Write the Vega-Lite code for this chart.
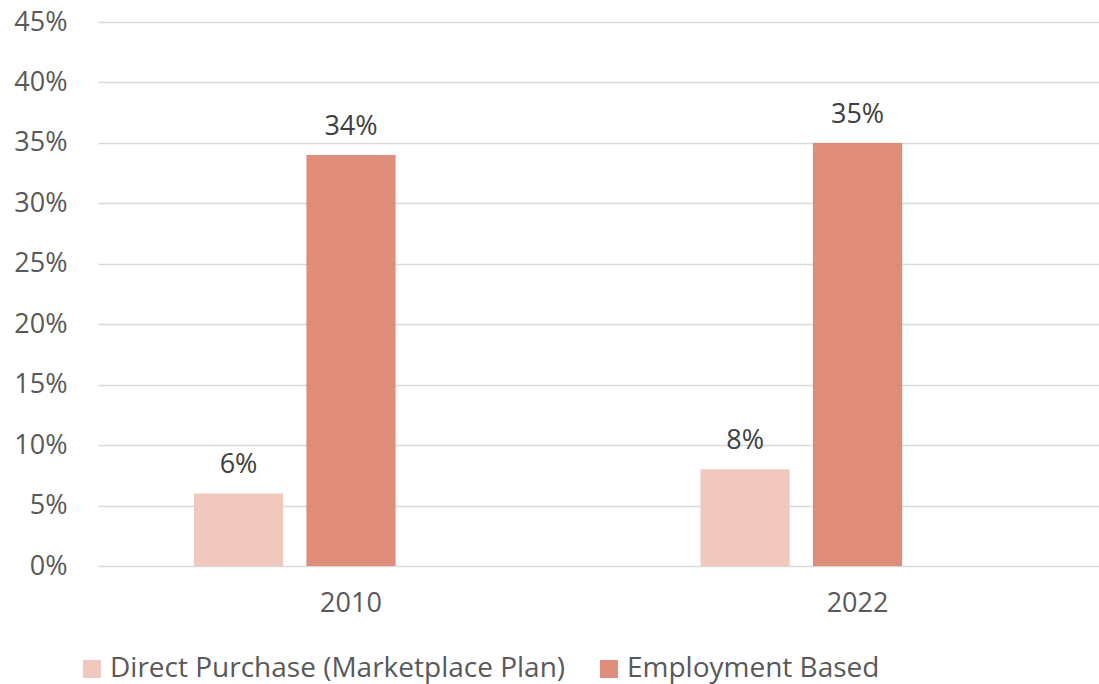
{
  "$schema": "https://vega.github.io/schema/vega-lite/v6.json",
  "width": 1001,
  "height": 544,
  "autosize": {"type": "none"},
  "padding": {"left": 98, "top": 22, "right": 0, "bottom": 118},
  "background": "white",
  "config": {
    "font": "Open Sans",
    "view": {"stroke": null}
  },
  "data": {
    "values": [
      {"year": "2010", "series": "Direct Purchase (Marketplace Plan)", "value": 0.06},
      {"year": "2010", "series": "Employment Based", "value": 0.34},
      {"year": "2022", "series": "Direct Purchase (Marketplace Plan)", "value": 0.08},
      {"year": "2022", "series": "Employment Based", "value": 0.35}
    ]
  },
  "encoding": {
    "x": {
      "field": "year",
      "type": "nominal",
      "scale": {"paddingInner": 0.38, "paddingOuter": 0.178, "align": 0.532},
      "axis": {
        "title": null,
        "labelAngle": 0,
        "labelFontSize": 27,
        "labelColor": "#595959",
        "labelPadding": 24,
        "ticks": false,
        "domain": false
      }
    },
    "xOffset": {
      "field": "series",
      "type": "nominal",
      "scale": {
        "domain": ["Direct Purchase (Marketplace Plan)", "Employment Based", "Hidden"],
        "paddingInner": 0.207,
        "paddingOuter": 0
      }
    },
    "y": {
      "field": "value",
      "type": "quantitative",
      "scale": {"domain": [0, 0.45], "nice": false},
      "axis": {
        "title": null,
        "values": [0, 0.05, 0.1, 0.15, 0.2, 0.25, 0.3, 0.35, 0.4, 0.45],
        "format": ".0%",
        "labelFontSize": 27,
        "labelColor": "#595959",
        "labelPadding": 31,
        "ticks": false,
        "domain": false,
        "grid": true,
        "gridColor": "#D9D9D9",
        "gridWidth": 1.5
      }
    }
  },
  "layer": [
    {
      "mark": {"type": "bar", "opacity": 0.9},
      "encoding": {
        "color": {
          "field": "series",
          "type": "nominal",
          "scale": {
            "domain": ["Direct Purchase (Marketplace Plan)", "Employment Based"],
            "range": ["#EEC2B7", "#DD816D"]
          },
          "legend": {
            "title": null,
            "orient": "none",
            "direction": "horizontal",
            "legendX": -20,
            "legendY": 633,
            "symbolType": "square",
            "symbolSize": 324,
            "symbolOpacity": 0.9,
            "symbolStrokeWidth": 0,
            "labelFontSize": 28,
            "labelColor": "#595959",
            "labelOffset": 4,
            "columnPadding": 29,
            "labelLimit": 600
          }
        }
      }
    },
    {
      "mark": {"type": "text", "fontSize": 27, "color": "#404040", "baseline": "alphabetic", "dy": -20},
      "encoding": {
        "text": {"field": "value", "type": "quantitative", "format": ".0%"}
      }
    }
  ]
}
